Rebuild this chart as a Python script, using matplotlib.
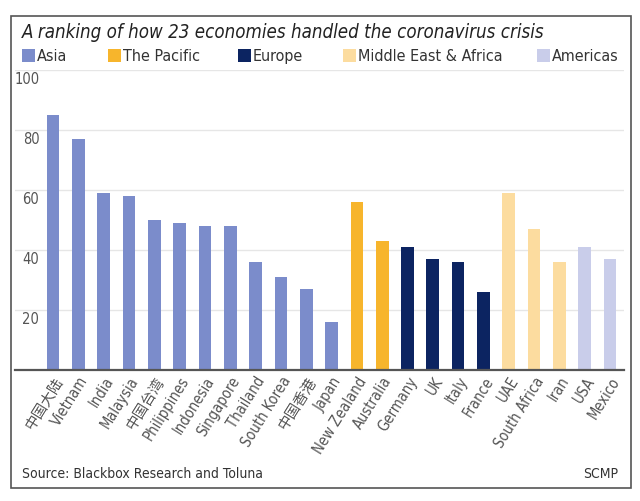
import matplotlib
matplotlib.use("Agg")
import matplotlib.pyplot as plt
import matplotlib.patches as mpatches
import matplotlib.transforms as mtransforms

plt.rcParams['font.family'] = ['DejaVu Sans', 'Noto Sans CJK SC']

categories = ["中国大陆", "Vietnam", "India", "Malaysia", "中国台湾", "Philippines",
              "Indonesia", "Singapore", "Thailand", "South Korea", "中国香港", "Japan",
              "New Zealand", "Australia", "Germany", "UK", "Italy", "France",
              "UAE", "South Africa", "Iran", "USA", "Mexico"]
values = [85, 77, 59, 58, 50, 49, 48, 48, 36, 31, 27, 16,
          56, 43, 41, 37, 36, 26, 59, 47, 36, 41, 37]
regions = ["Asia"] * 12 + ["The Pacific"] * 2 + ["Europe"] * 4 + \
          ["Middle East & Africa"] * 3 + ["Americas"] * 2
region_names = ["Asia", "The Pacific", "Europe", "Middle East & Africa", "Americas"]
yticks = [20, 40, 60, 80, 100]

colors = {"Asia": "#7b8ccb", "The Pacific": "#f7b52c", "Europe": "#0c2461",
          "Middle East & Africa": "#fcdc9f", "Americas": "#c9cdea"}

W, H = 640, 501
fig = plt.figure(figsize=(W / 100, H / 100), dpi=100)
fig.patch.set_facecolor("white")

def fx(px):
    return px / W

def fy(py):
    return 1 - py / H

# outer frame
fig.add_artist(mpatches.Rectangle((fx(11), fy(488)), fx(620), (488 - 16) / H,
                                  transform=fig.transFigure, fill=False,
                                  edgecolor="#555555", linewidth=1.2))

ax = fig.add_axes([fx(15), fy(370), fx(609), 300 / H])
x = list(range(len(categories)))
ax.bar(x, values, width=0.5, color=[colors[r] for r in regions], zorder=2)
ax.set_xlim(-1.5, 22.55)
ax.set_ylim(0, 100)
ax.set_yticks(yticks)
ax.yaxis.grid(True, color="#e6e6e6", linewidth=1.0, zorder=0)
ax.tick_params(axis="y", length=0, labelleft=False)
ax.tick_params(axis="x", length=0, pad=3)
for s in ["top", "right", "left"]:
    ax.spines[s].set_visible(False)
ax.spines["bottom"].set_color("#555555")
ax.spines["bottom"].set_linewidth(1.6)
ax.spines["bottom"].set_zorder(3)

ax.set_xticks(x)
ax.set_xticklabels(categories, rotation=58, ha="right", rotation_mode="anchor",
                   fontsize=10.5, color="#555555", fontstretch="condensed")

ytrans = mtransforms.offset_copy(ax.get_yaxis_transform(), fig=fig, x=0, y=-9, units="dots")
for v in yticks:
    ax.text(0.04, v, str(v), transform=ytrans, ha="right", va="center",
            fontsize=10.5, color="#555555", fontstretch="condensed")

fig.text(fx(22), fy(32), "A ranking of how 23 economies handled the coronavirus crisis",
         ha="left", va="center", fontsize=13.4, style="italic", color="#222222",
         fontstretch="condensed")

# legend
leg_x = [22, 108, 238, 343, 537]
for name, lx in zip(region_names, leg_x):
    fig.add_artist(mpatches.Rectangle((fx(lx), fy(62)), fx(13), 13 / H,
                                      transform=fig.transFigure, facecolor=colors[name],
                                      edgecolor="none"))
    fig.text(fx(lx + 15), fy(61), name, ha="left", va="baseline", fontsize=11.5,
             color="#333333", fontstretch="condensed")

fig.text(fx(22), fy(474), "Source: Blackbox Research and Toluna", ha="left", va="center",
         fontsize=10, color="#333333", fontstretch="condensed")
fig.text(fx(618), fy(474), "SCMP", ha="right", va="center", fontsize=10,
         color="#333333", fontstretch="condensed")

fig.savefig("out.png", dpi=100, facecolor="white")
